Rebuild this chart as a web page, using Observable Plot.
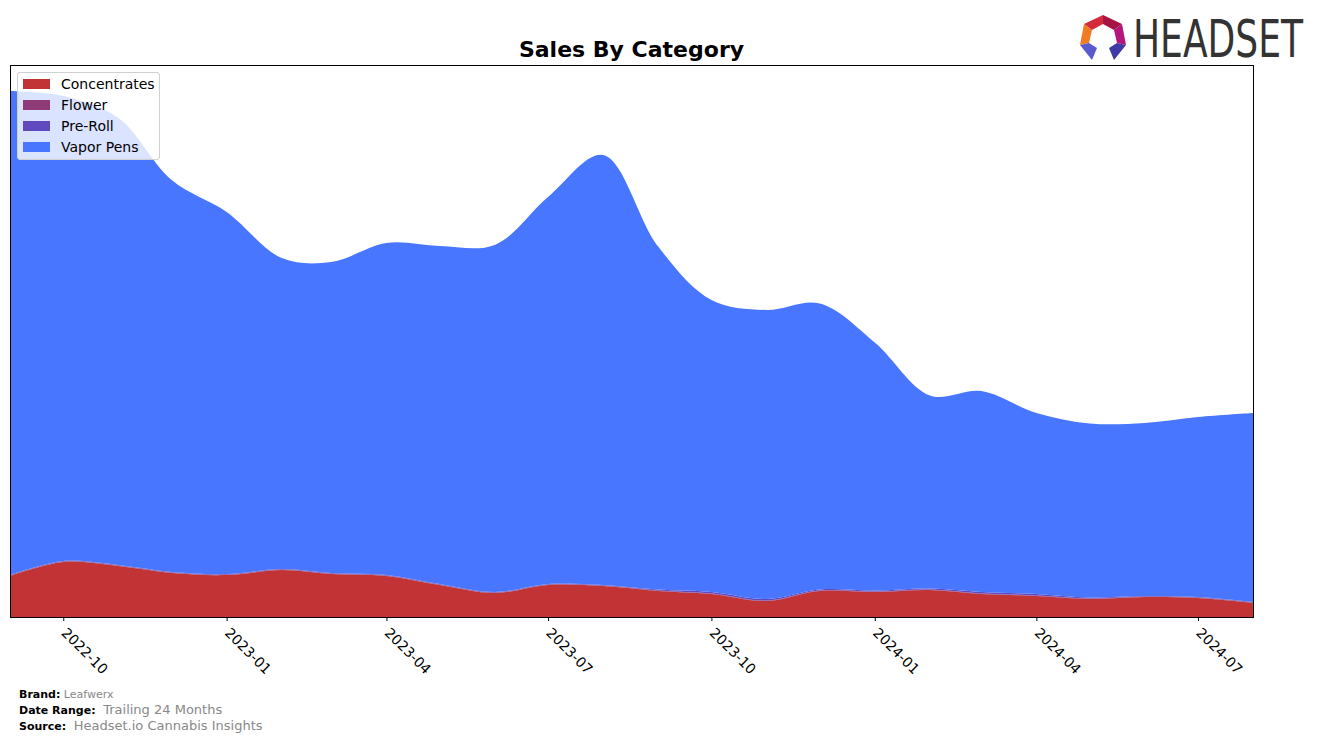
<!DOCTYPE html>
<html><head><meta charset="utf-8">
<script src="https://cdn.jsdelivr.net/npm/d3@7"></script>
<script src="https://cdn.jsdelivr.net/npm/@observablehq/plot@0.6"></script>
<style>
body{margin:0;background:#fff;font-family:"DejaVu Sans",sans-serif;}
#wrap{position:relative;width:1317px;height:740px;overflow:hidden;}
#chart{position:absolute;left:0;top:0;}
#title{position:absolute;left:10px;width:1243px;top:37px;text-align:center;font-weight:bold;font-size:22px;color:#000;}
#legend{position:absolute;left:17px;top:72px;width:141px;height:86px;background:rgba(255,255,255,0.8);border:1px solid #d0d0d0;border-radius:3px;}
.li{position:absolute;left:5px;height:20px;display:flex;align-items:center;font-size:14px;color:#000;white-space:nowrap;}
.sw{display:inline-block;width:27px;height:10px;margin-right:11px;}
#footer{position:absolute;left:19px;top:687px;font-size:11px;line-height:15px;}
#footer b{font-weight:bold;color:#000;}
#footer .g{color:#888;}
#logo{position:absolute;left:1075px;top:8px;}
</style></head><body>
<div id="wrap">
  <div id="chart"></div>
  <div id="title">Sales By Category</div>
  <div id="legend"></div>
  <div id="footer">
    <div><b>Brand:</b> <span class="g" style="font-size:11px">Leafwerx</span></div>
    <div><b>Date Range:</b> <span class="g" style="font-size:13px">&nbsp;Trailing 24 Months</span></div>
    <div><b>Source:</b> <span class="g" style="font-size:13px">&nbsp;Headset.io Cannabis Insights</span></div>
  </div>
  <svg id="logo" width="240" height="70" viewBox="0 0 240 70">
    <polygon points="28,7 9,16 17,22 28,16" fill="#d42a3c"/>
    <polygon points="28,7 47,16 39,22 28,16" fill="#a51443"/>
    <polygon points="9,16 5,37 14,35 17,22" fill="#f07b22"/>
    <polygon points="47,16 51,37 42,35 39,22" fill="#b5157c"/>
    <polygon points="5,37 17,52 22,40 14,35" fill="#5a5ad0"/>
    <polygon points="51,37 39,52 34,40 42,35" fill="#3f3aa8"/>
    <text transform="translate(58,49) scale(1,1.34)" font-family="'Liberation Sans Narrow','DejaVu Sans Condensed',sans-serif" font-size="38" fill="#333" textLength="170" lengthAdjust="spacingAndGlyphs">HEADSET</text>
  </svg>
</div>
<script>
const months = ["2022-09","2022-10","2022-11","2022-12","2023-01","2023-02","2023-03","2023-04","2023-05","2023-06","2023-07","2023-08","2023-09","2023-10","2023-11","2023-12","2024-01","2024-02","2024-03","2024-04","2024-05","2024-06","2024-07","2024-08"];
const categories = ["Concentrates","Flower","Pre-Roll","Vapor Pens"];
const colors = ["#c13334","#8f3b78","#6048bf","#4876ff"];
const concentrates = [41,55,51,44,42,47,43,41,32,24,32,31,26,23,16,26,25,27,23,21,18,20,19,14];
const flower =       [0.5,0.5,0.5,0.5,0.5,0.5,0.5,0.5,0.5,0.5,0.5,0.5,0.5,0.5,0.5,0.5,0.5,0.5,0.5,0.5,0.5,0.5,0.5,0.5];
const preRoll =      [0.5,0.5,0.5,0.5,0.5,0.5,0.5,0.5,0.5,0.5,0.5,0.5,1,1.5,1.5,1,1,1,1.5,1.5,1,0.5,0.5,0.5];
const vaporPens =    [484,465,447,392,362,311,311,332,338,347,387,430,343,292,289,286,248,193,201,181,174,173,180,189];
const tickMonths = ["2022-10","2023-01","2023-04","2023-07","2023-10","2024-01","2024-04","2024-07"];

const parse = d3.utcParse("%Y-%m");
const series = [concentrates, flower, preRoll, vaporPens];
const data = [];
categories.forEach((c, i) => months.forEach((m, j) => data.push({date: parse(m), category: c, value: series[i][j]})));

const chart = Plot.plot({
  width: 1317, height: 740,
  marginLeft: 10, marginRight: 64, marginTop: 65, marginBottom: 123,
  style: {fontFamily: "'DejaVu Sans', sans-serif", fontSize: "14px", color: "#000", background: "transparent"},
  x: {type: "utc", domain: [parse(months[0]), parse(months[months.length - 1])]},
  y: {domain: [0, 552], axis: null},
  color: {domain: categories, range: colors},
  marks: [
    Plot.areaY(data, {x: "date", y: "value", fill: "category", order: categories, curve: "catmull-rom"}),
    Plot.frame({stroke: "#000", strokeWidth: 1}),
    Plot.axisX({ticks: tickMonths.map(parse), tickFormat: d3.utcFormat("%Y-%m"), tickRotate: 45, tickSize: 4, tickPadding: 9, label: null, fontSize: 14})
  ]
});
document.getElementById("chart").appendChild(chart);

const legend = document.getElementById("legend");
categories.forEach((c, i) => {
  const d = document.createElement("div");
  d.className = "li";
  d.style.top = (1 + i * 21) + "px";
  d.innerHTML = `<span class="sw" style="background:${colors[i]}"></span>${c}`;
  legend.appendChild(d);
});
</script>
</body></html>
